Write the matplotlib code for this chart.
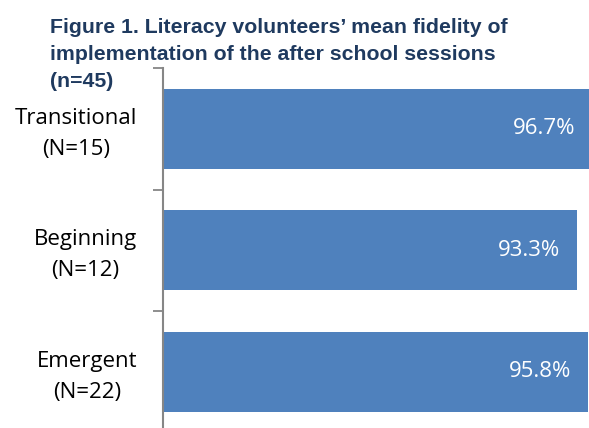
import matplotlib
matplotlib.use("Agg")
import matplotlib.pyplot as plt
import matplotlib.transforms as mtransforms

categories = ["Transitional\n(N=15)", "Beginning\n(N=12)", "Emergent\n(N=22)"]
fidelity = [96.7, 93.3, 95.8]
value_labels = ["96.7%", "93.3%", "95.8%"]
title_lines = ["Figure 1. Literacy volunteers\u2019 mean fidelity of",
               "implementation of the after school sessions",
               "(n=45)"]

W, H = 589, 428
fig = plt.figure(figsize=(W / 100, H / 100), dpi=100)

# Plot area in pixel terms (extends past the right and bottom edges)
left_px, right_px, top_px, bottom_px = 163, 606.7, 68, 432.5
ax = fig.add_axes([left_px / W, (H - bottom_px) / H,
                   (right_px - left_px) / W, (bottom_px - top_px) / H])

bar_color = "#4F81BD"
spine_color = "#868686"
ypos = list(range(len(categories)))
ax.barh(ypos, fidelity, height=0.66, color=bar_color, zorder=2)

ax.set_xlim(0, 100)
ax.set_ylim(len(categories) - 0.5, -0.5)

for y, v, lab in zip(ypos, fidelity, value_labels):
    ax.annotate(lab, xy=(v, y), xytext=(-17, 0), textcoords="offset pixels",
                ha="right", va="center", color="white", fontsize=16,
                family="Open Sans", zorder=3)

ax.set_yticks(ypos)
ax.set_yticklabels(categories, fontsize=16, family="Open Sans",
                   linespacing=1.62, ha="right", multialignment="center")
ax.tick_params(axis="y", which="major", length=0, pad=18.7)
# nudge the two-line category labels up slightly
shift = mtransforms.ScaledTranslation(0, 2.5 / 100, fig.dpi_scale_trans)
for lbl in ax.get_yticklabels():
    lbl.set_transform(lbl.get_transform() + shift)
ax.set_yticks([i - 0.5 for i in range(len(categories) + 1)], minor=True)
ax.tick_params(axis="y", which="minor", length=7, width=1.3, color=spine_color)
ax.set_xticks([])

for s in ["top", "right", "bottom"]:
    ax.spines[s].set_visible(False)
ax.spines["left"].set_color(spine_color)
ax.spines["left"].set_linewidth(1.5)

# Title, one baseline per line
for line, base_px in zip(title_lines, [33, 60, 87]):
    fig.text(50 / W, 1 - base_px / H, line, ha="left", va="baseline",
             fontsize=15.3, fontweight="bold", family="Liberation Sans",
             color="#1F3A5F")

fig.savefig("out.png", dpi=100)
